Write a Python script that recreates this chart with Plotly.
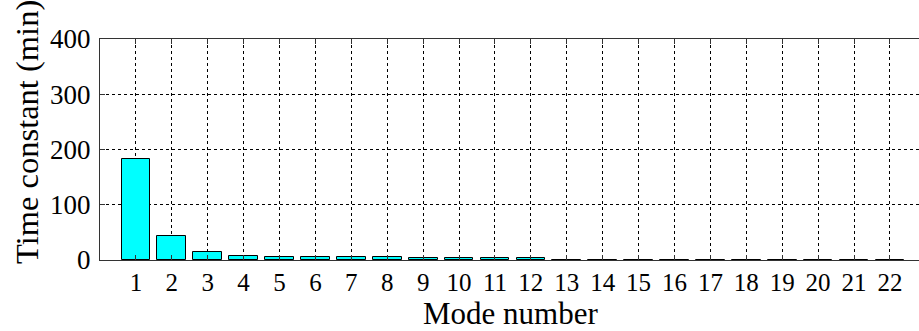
import plotly.graph_objects as go

modes = list(range(1, 23))
time_constants = [182, 44, 15, 7, 5, 5, 5, 5, 3, 3, 3, 3,
                  0.7, 0.7, 0.7, 0.7, 0.7, 0.7, 0.7, 0.7, 0.7, 0.7]
y_ticks = [0, 100, 200, 300, 400]
x_title = "Mode number"
y_title = "Time constant (min)"

font_family = "Liberation Serif"

fig = go.Figure(go.Bar(
    x=modes, y=time_constants, width=0.8,
    marker=dict(color="#00FFFF", line=dict(color="black", width=1)),
))

fig.update_layout(
    width=919, height=331,
    margin=dict(l=100, r=0, t=39, b=71),
    plot_bgcolor="white", paper_bgcolor="white",
    font=dict(family=font_family, color="black", size=24),
    showlegend=False,
    bargap=0,
)
fig.update_xaxes(
    range=[0, 22.81], tickvals=modes, ticktext=[str(m) for m in modes],
    showline=True, linecolor="#333", linewidth=1, mirror="ticks",
    ticks="inside", ticklen=5, tickcolor="#333",
    showgrid=True, gridcolor="black", gridwidth=1, griddash="3px,3px",
    tickfont=dict(family=font_family, size=25),
    ticklabelstandoff=0,
    zeroline=False,
)
fig.update_yaxes(
    range=[0, 400], tickvals=y_ticks,
    showline=True, linecolor="#333", linewidth=1, mirror=False,
    ticks="inside", ticklen=5, tickcolor="#333",
    showgrid=True, gridcolor="black", gridwidth=1, griddash="3px,3px",
    tickfont=dict(family=font_family, size=27),
    ticklabelstandoff=3,
    zeroline=False,
)
fig.add_annotation(
    text=y_title, textangle=-90, showarrow=False,
    xref="paper", yref="paper",
    x=(27 - 100) / 819, y=(260 - 132) / 221,
    xanchor="center", yanchor="middle",
    font=dict(family=font_family, size=32.5, color="black"),
)
fig.add_annotation(
    text=x_title, showarrow=False,
    xref="paper", yref="paper",
    x=(510 - 100) / 819, y=(260 - 313) / 221,
    xanchor="center", yanchor="middle",
    font=dict(family=font_family, size=31, color="black"),
)

fig.write_html("out.html")
